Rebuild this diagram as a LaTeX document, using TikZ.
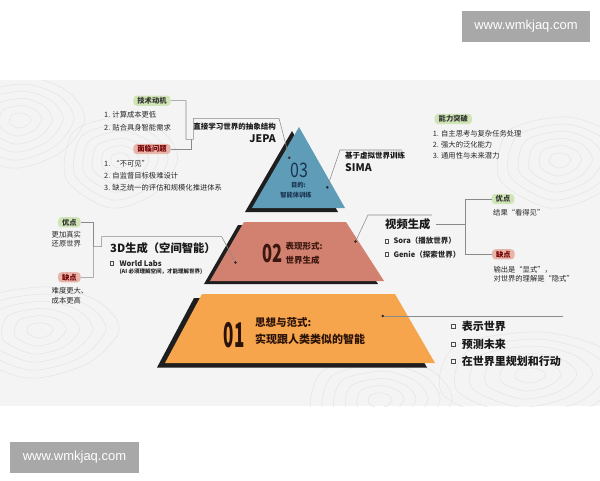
\documentclass[tikz,border=0pt]{standalone}
\usepackage{fontspec}
\usepackage{graphicx}
\setmainfont{Noto Sans CJK SC}
\newfontfamily\wmfont{Liberation Sans}
\definecolor{bggray}{HTML}{F4F4F4}
\definecolor{contourc}{HTML}{E4E4E4}
\definecolor{bluec}{HTML}{5E9CB8}
\definecolor{salmonc}{HTML}{D2806F}
\definecolor{orangec}{HTML}{F6A54D}
\definecolor{shadowc}{HTML}{1E1E1E}
\definecolor{pillgreen}{HTML}{CFE5B5}
\definecolor{pillred}{HTML}{E8B5AA}
\definecolor{linec}{HTML}{8A8A8A}
\definecolor{navyc}{HTML}{1A3550}
\definecolor{brown2}{HTML}{3B170F}
\definecolor{brown1}{HTML}{2B1208}
\definecolor{wmgray}{HTML}{A8A8A8}
\begin{document}
\begin{tikzpicture}[x=1pt,y=-1pt,
  item/.style={inner sep=0pt, anchor=west, font=\fontsize{7.3}{8}\selectfont, text=black!85},
  lbl/.style={inner sep=0pt, anchor=west, font=\fontsize{7.5}{8}\selectfont\bfseries, text=black!90},
  bigl/.style={inner sep=0pt, anchor=west, font=\fontsize{10.5}{11}\selectfont\bfseries, text=black!90},
  headl/.style={inner sep=0pt, anchor=west, font=\fontsize{11.3}{12}\selectfont\bfseries, text=black!90},
  subl/.style={inner sep=0pt, anchor=west, font=\fontsize{7.5}{8}\selectfont\bfseries, text=black!85},
  tinyl/.style={inner sep=0pt, anchor=west, font=\fontsize{5.5}{6}\selectfont\bfseries, text=black!85},
  pillg/.style={rounded corners=3.5pt, fill=pillgreen, inner xsep=4pt, inner ysep=1.6pt, font=\fontsize{7.3}{8}\selectfont\bfseries, text=black!80},
  pillr/.style={rounded corners=3.5pt, fill=pillred, inner xsep=4pt, inner ysep=1.6pt, font=\fontsize{7.3}{8}\selectfont\bfseries, text=red!45!black},
  conn/.style={draw=linec, line width=0.55pt},
  dotn/.style={circle, fill=black!85, inner sep=0pt, minimum size=2.8pt},
  sqn/.style={draw=black!70, line width=0.5pt, inner sep=0pt, minimum size=3.6pt},
  contour/.style={draw=contourc, line width=0.5pt},
  wm/.style={fill=wmgray, text=white, font=\wmfont\fontsize{13}{14}\selectfont, inner sep=0pt}]
\useasboundingbox (0,0) rectangle (600,480);
\fill[white] (0,0) rectangle (600,480);
\fill[bggray] (0,80) rectangle (600,406);
% faint contour texture
\begin{scope}
\clip (0,80) rectangle (600,406);
\foreach \cx/\cy/\sx in {40/330/1.1, 530/375/1.3, 560/160/0.9, 120/160/0.8, 380/400/1.0, 20/120/0.9}{
  \begin{scope}[shift={(\cx,\cy)}]
    \foreach \k in {0.4,0.8,1.2,1.6,2.0,2.4}{
      \draw[contour] plot[smooth cycle] coordinates {(30*\k*\sx,0) (18*\k*\sx,14*\k) (-5*\k*\sx,20*\k) (-28*\k*\sx,8*\k) (-24*\k*\sx,-12*\k) (2*\k*\sx,-18*\k) (22*\k*\sx,-12*\k)};
    }
  \end{scope}
}
\end{scope}
% watermarks
\node[wm, minimum width=128pt, minimum height=31pt] (wm1) at (526,26.5) {www.wmkjaq.com};
\node[wm, minimum width=129pt, minimum height=31pt] (wm2) at (74.5,457) {www.wmkjaq.com};
% pyramid
\fill[shadowc] (292,131) -- (245,212) -- (338,212) -- cycle;
\fill[bluec] (299,127) -- (252,208) -- (345,208) -- cycle;
\fill[shadowc] (238,225) -- (340,225) -- (378,284) -- (204,284) -- cycle;
\fill[salmonc] (244,222) -- (346,222) -- (384,281) -- (210,281) -- cycle;
\fill[shadowc] (194,298) -- (387,298) -- (427,367.5) -- (157,367.5) -- cycle;
\fill[orangec] (202,294) -- (395,294) -- (435,363) -- (165,363) -- cycle;
% pyramid texts
\node[inner sep=0pt, text=navyc, font=\fontsize{16}{16}\selectfont] (n3) at (299,170) {\scalebox{1}[1.25]{03}};
\node[inner sep=0pt, text=navyc, font=\fontsize{6.3}{7}\selectfont\bfseries] (n3a) at (298.5,185.5) {目的:};
\node[inner sep=0pt, text=navyc, font=\fontsize{6.3}{7}\selectfont\bfseries] (n3b) at (296,195) {智能体训练};
\node[inner sep=0pt, text=brown2, font=\fontsize{16.5}{17}\selectfont\bfseries] (n2) at (272.5,253.3) {\scalebox{1}[1.5]{02}};
\node[inner sep=0pt, anchor=west, text=brown2, font=\fontsize{8.5}{9}\selectfont\bfseries] (n2a) at (285.5,246) {表现形式:};
\node[inner sep=0pt, anchor=west, text=brown2, font=\fontsize{8.5}{9}\selectfont\bfseries] (n2b) at (285.5,260) {世界生成};
\node[inner sep=0pt, text=brown1, font=\fontsize{17}{17}\selectfont\bfseries] (n1) at (234,335) {\scalebox{1}[2]{01}};
\node[inner sep=0pt, anchor=west, text=brown1, font=\fontsize{10.5}{11}\selectfont\bfseries] (n1a) at (255,322) {思想与范式:};
\node[inner sep=0pt, anchor=west, text=brown1, font=\fontsize{11}{12}\selectfont\bfseries] (n1b) at (255,339.5) {实现跟人类类似的智能};
% dots
\node[dotn] (d3a) at (289.3,157.7) {};
\node[dotn] (d3b) at (327.3,187.3) {};
\node[dotn] (d2a) at (235.5,262.5) {};
\node[dotn] (d2b) at (355.5,241.5) {};
\node[dotn] (d1) at (382.7,316) {};
% top-left group
\node[pillg] (mot) at (152,100.7) {技术动机};
\node[item] (mot1) at (104,114.3) {1. 计算成本更低};
\node[item] (mot2) at (104,127.3) {2. 贴合具身智能需求};
\node[pillr] (prob) at (152,149) {面临问题};
\node[item] (prob1) at (104,163.5) {1. “不可见”};
\node[item] (prob2) at (104,175.5) {2. 自监督目标极难设计};
\node[item] (prob3) at (104,187.5) {3. 缺乏统一的评估和规模化推进体系};
\node[lbl, anchor=east] (jepat) at (276,126.7) {直接学习世界的抽象结构};
\node[bigl, anchor=east] (jepa) at (276,139) {JEPA};
\coordinate (b1) at (186,139.3);
\coordinate (b2) at (193.3,139.3);
\coordinate (b3) at (193.3,118.3);
\coordinate (b4) at (279,118.3);
\coordinate (b5) at (191.7,139.3);
\draw[conn] (mot.east) -| (b1) -- (b2) -- (b3) -- (b4) -- (d3a);
\draw[conn] (prob.east) -| (b5);
% SIMA
\coordinate (s1) at (340,150);
\coordinate (s2) at (402,150);
\draw[conn] (d3b) -- (s1) -- (s2);
\node[lbl] (simat) at (345,155.7) {基于虚拟世界训练};
\node[bigl] (sima) at (345,167.3) {SIMA};
% ability
\node[pillg] (abl) at (453.3,119) {能力突破};
\node[item] (abl1) at (432.7,134) {1. 自主思考与复杂任务处理};
\node[item] (abl2) at (432.7,145) {2. 强大的泛化能力};
\node[item] (abl3) at (432.7,156) {3. 通用性与未来潜力};
% middle left
\node[pillg] (pro1) at (69.3,222.3) {优点};
\node[item] (pro1a) at (51.5,234.3) {更加真实};
\node[item] (pro1b) at (51.5,244) {还原世界};
\node[pillr] (con1) at (69.3,277.3) {缺点};
\node[item] (con1a) at (51.5,290.7) {难度更大、};
\node[item] (con1b) at (51.5,300.3) {成本更高};
\coordinate (l1) at (93.3,246.7);
\coordinate (l2) at (101.7,246.7);
\coordinate (l3) at (101.7,236.7);
\coordinate (l4) at (221.7,236.7);
\draw[conn] (pro1.east) -| (l1);
\draw[conn] (con1.east) -| (l1) -- (l2) -- (l3) -- (l4) -- (d2a);
\node[headl] (g3d) at (110,247.7) {3D生成（空间智能）};
\node[sqn] (sq1) at (111.7,263.3) {};
\node[subl] (wl) at (119.3,263.3) {World Labs};
\node[tinyl] (wls) at (119.3,271.7) {(AI 必须理解空间，才能理解世界)};
% middle right
\coordinate (v1) at (368,215);
\coordinate (v2) at (432,215);
\draw[conn] (d2b) -- (v1) -- (v2);
\node[headl] (vid) at (385,224) {视频生成};
\coordinate (r1) at (465,224);
\draw[conn] ([xshift=5pt]vid.east) -- (r1);
\node[pillg] (pro2) at (503,199) {优点};
\node[pillr] (con2) at (503.3,254.3) {缺点};
\draw[conn] (pro2.west) -| (r1);
\draw[conn] (con2.west) -| (r1);
\node[item] (pro2a) at (493,212.7) {结果“看得见”};
\node[item] (con2a) at (493.3,269.3) {输出是“显式”，};
\node[item] (con2b) at (493.3,278.5) {对世界的理解是“隐式”};
\node[sqn] (sq2) at (386.7,241) {};
\node[subl] (sora) at (393.3,241) {Sora（播放世界）};
\node[sqn] (sq3) at (386.7,254.3) {};
\node[subl] (genie) at (393.3,254.3) {Genie（探索世界）};
% bottom right
\coordinate (e1) at (563,316);
\draw[conn] (d1) -- (e1);
\node[sqn] (sq4) at (453.3,326.5) {};
\node[headl, font=\fontsize{11}{12}\selectfont\bfseries] (t1) at (461.7,326.5) {表示世界};
\node[sqn] (sq5) at (453.3,344) {};
\node[headl, font=\fontsize{11}{12}\selectfont\bfseries] (t2) at (461.7,344) {预测未来};
\node[sqn] (sq6) at (453.3,361.5) {};
\node[headl, font=\fontsize{11}{12}\selectfont\bfseries] (t3) at (461.7,361.5) {在世界里规划和行动};
\end{tikzpicture}
\end{document}
